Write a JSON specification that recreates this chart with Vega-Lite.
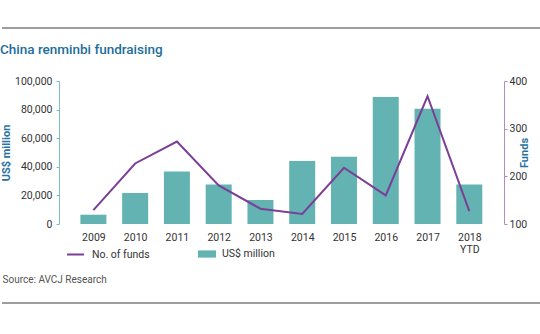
{
  "$schema": "https://vega.github.io/schema/vega-lite/v6.json",
  "padding": {"top": 27, "left": 0, "right": 0, "bottom": 0},
  "background": "white",
  "spacing": 18,
  "align": "none",
  "config": {"view": {"stroke": null}, "font": "Roboto"},
  "vconcat": [
    {
      "spacing": 13,
      "align": "none",
      "vconcat": [
        {
          "width": 540,
          "height": 2,
          "data": {"values": [{"a": 0, "b": 1, "c": 0.5}]},
          "mark": {"type": "rule", "color": "#9e9e9e", "strokeWidth": 2},
          "encoding": {
            "x": {"field": "a", "type": "quantitative", "scale": {"domain": [0, 1]}, "axis": null},
            "x2": {"field": "b"},
            "y": {"field": "c", "type": "quantitative", "scale": {"domain": [0, 1]}, "axis": null}
          }
        },
        {
          "width": 540,
          "height": 143,
          "title": {
            "text": "China renminbi fundraising",
            "anchor": "start",
            "frame": "group",
            "dx": -2,
            "fontSize": 13.5,
            "fontWeight": 500,
            "color": "#1d6e9c",
            "font": "Roboto",
            "offset": 20
          },
          "data": {
            "values": [
              {"year": 2009, "usd": 6500, "funds": 129},
              {"year": 2010, "usd": 21700, "funds": 227},
              {"year": 2011, "usd": 36800, "funds": 273},
              {"year": 2012, "usd": 27700, "funds": 181},
              {"year": 2013, "usd": 16800, "funds": 132},
              {"year": 2014, "usd": 44000, "funds": 121},
              {"year": 2015, "usd": 47000, "funds": 218},
              {"year": 2016, "usd": 88800, "funds": 160},
              {"year": 2017, "usd": 80600, "funds": 368},
              {"year": 2018, "usd": 27700, "funds": 127}
            ]
          },
          "encoding": {
            "x": {
              "field": "year",
              "type": "quantitative",
              "scale": {"domain": [2006.932, 2019.621], "nice": false, "zero": false},
              "axis": {
                "title": "Source: AVCJ Research",
                "titleX": 0,
                "titleY": 55,
                "titleAlign": "left",
                "titleBaseline": "middle",
                "titleFontWeight": "normal",
                "titleFontSize": 10,
                "titleColor": "#555555",
                "values": [2009, 2010, 2011, 2012, 2013, 2014, 2015, 2016, 2017, 2018],
                "format": "d",
                "grid": false,
                "domain": false,
                "ticks": false,
                "labelAngle": 0,
                "labelPadding": 8.5,
                "labelFontSize": 10.5,
                "labelColor": "#333333",
                "labelExpr": "datum.value == 2018 ? ['2018', 'YTD'] : datum.label",
                "labelLineHeight": 11.5
              }
            }
          },
          "layer": [
            {
              "mark": {"type": "bar", "orient": "vertical", "size": 26},
              "encoding": {
                "y": {
                  "field": "usd",
                  "type": "quantitative",
                  "scale": {"domain": [0, 100000], "nice": false},
                  "axis": {
                    "title": "US$ million",
                    "offset": -57,
                    "values": [0, 20000, 40000, 60000, 80000, 100000],
                    "format": ",.0f",
                    "grid": false,
                    "domainColor": "#7cc0c0",
                    "tickColor": "#7cc0c0",
                    "tickSize": 3,
                    "labelPadding": 4,
                    "labelFontSize": 10.5,
                    "labelColor": "#333333",
                    "titleColor": "#2a73a0",
                    "titleFontSize": 11,
                    "titleFontWeight": "bold",
                    "titlePadding": 3
                  }
                },
                "fill": {
                  "datum": "US$ million",
                  "scale": {"range": ["#62b3b2"]},
                  "legend": {
                    "orient": "none",
                    "legendX": 196,
                    "legendY": 218,
                    "title": null,
                    "padding": 0,
                    "symbolType": "M-1,-0.4H1V0.4H-1Z",
                    "symbolSize": 324,
                    "symbolStrokeWidth": 0,
                    "labelFontSize": 10.5,
                    "labelColor": "#333333",
                    "labelOffset": 6
                  }
                }
              }
            },
            {
              "mark": {"type": "line", "strokeWidth": 2},
              "encoding": {
                "y": {
                  "field": "funds",
                  "type": "quantitative",
                  "scale": {"domain": [100, 400], "nice": false, "zero": false},
                  "axis": {
                    "orient": "right",
                    "offset": -38,
                    "title": "Funds",
                    "values": [100, 200, 300, 400],
                    "grid": false,
                    "domainColor": "#b48ac4",
                    "tickColor": "#b48ac4",
                    "tickSize": 3,
                    "labelPadding": 2,
                    "labelFontSize": 10.5,
                    "labelColor": "#333333",
                    "titleColor": "#2a73a0",
                    "titleFontSize": 11,
                    "titleFontWeight": "bold",
                    "titleAngle": 270,
                    "titlePadding": 3
                  }
                },
                "stroke": {
                  "datum": "No. of funds",
                  "scale": {"range": ["#7b3f97"]},
                  "legend": {
                    "orient": "none",
                    "legendX": 64,
                    "legendY": 218,
                    "title": null,
                    "padding": 0,
                    "symbolType": "stroke",
                    "symbolSize": 289,
                    "symbolStrokeWidth": 2,
                    "labelFontSize": 10.5,
                    "labelColor": "#333333",
                    "labelOffset": 7
                  }
                }
              }
            }
          ],
          "resolve": {"scale": {"y": "independent"}}
        }
      ]
    },
    {
      "width": 540,
      "height": 2,
      "data": {"values": [{"a": 0, "b": 1, "c": 0.5}]},
      "mark": {"type": "rule", "color": "#9e9e9e", "strokeWidth": 2},
      "encoding": {
        "x": {"field": "a", "type": "quantitative", "scale": {"domain": [0, 1]}, "axis": null},
        "x2": {"field": "b"},
        "y": {"field": "c", "type": "quantitative", "scale": {"domain": [0, 1]}, "axis": null}
      }
    }
  ]
}
